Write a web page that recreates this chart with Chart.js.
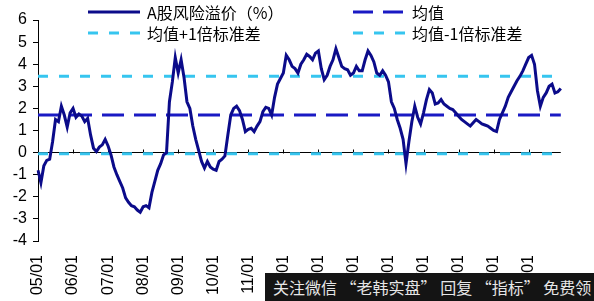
<!DOCTYPE html>
<html>
<head>
<meta charset="utf-8">
<style>
    body {
        margin: 0;
        background: #fff;
    }
    .wrap {
        position: relative;
        width: 594px;
        height: 301px;
    }
    .legend-item {
        position: absolute;
        display: flex;
        align-items: center;
        height: 20px;
        font-family: 'Noto Sans CJK SC', sans-serif;
        font-size: 16px;
        color: #000;
        white-space: nowrap;
    }
    .legend-item svg {
        margin-right: 7px;
    }
    .watermark {
        position: absolute;
        left: 265px;
        top: 273px;
        width: 321px;
        height: 28px;
        padding-left: 8px;
        background: #141414;
        color: #e6e6e6;
        font-family: 'Noto Sans CJK SC', sans-serif;
        font-size: 16px;
        line-height: 28px;
        white-space: nowrap;
    }
</style>
</head>
<body>
<div class="wrap">
    <canvas id="premiumChart" width="594" height="301"></canvas>

    <!-- 图例 -->
    <div class="legend-item" style="left:88px; top:2px">
        <svg width="52" height="20"><line x1="0" y1="10" x2="52" y2="10" stroke="#0b0b8a" stroke-width="3"/></svg>
        <span>A股风险溢价（%）</span>
    </div>
    <div class="legend-item" style="left:353px; top:2px">
        <svg width="52" height="20"><line x1="0" y1="10" x2="52" y2="10" stroke="#1a1ac4" stroke-width="3" stroke-dasharray="20 10"/></svg>
        <span>均值</span>
    </div>
    <div class="legend-item" style="left:88px; top:23px">
        <svg width="52" height="20"><line x1="0" y1="10" x2="52" y2="10" stroke="#36c5ef" stroke-width="3" stroke-dasharray="10 11"/></svg>
        <span>均值+1倍标准差</span>
    </div>
    <div class="legend-item" style="left:353px; top:23px">
        <svg width="52" height="20"><line x1="0" y1="10" x2="52" y2="10" stroke="#36c5ef" stroke-width="3" stroke-dasharray="10 11"/></svg>
        <span>均值-1倍标准差</span>
    </div>

    <div class="watermark">关注微信 “老韩实盘” 回复 “指标” 免费领</div>
</div>

<script src="https://cdn.jsdelivr.net/npm/chart.js"></script>
<script>
    // 年份刻度
    const yearLabels = ['05/01', '06/01', '07/01', '08/01', '09/01', '10/01', '11/01', '12/01',
                        '13/01', '14/01', '15/01', '16/01', '17/01', '18/01', '19/01'];

    // A股风险溢价（%），按月读取
    const premium = [
        -0.8, -1.36, -0.6, -0.35, -0.3, 0.5, 1.5, 1.4, 2.1, 1.7, 1.15, 1.8,
        2.0, 1.6, 1.75, 1.65, 1.4, 1.55, 0.8, 0.2, 0.05, 0.25, 0.35, 0.6,
        0.3, -0.1, -0.65, -1.0, -1.3, -1.6, -2.05, -2.25, -2.4, -2.45, -2.6, -2.7,
        -2.45, -2.4, -2.5, -1.8, -1.3, -0.8, -0.5, -0.1, 0.0, 2.3, 3.2, 4.3,
        3.6, 4.2, 3.4, 2.3, 2.0, 1.2, 0.6, 0.1, -0.4, -0.7, -0.4, -0.65,
        -0.75, -0.8, -0.4, -0.3, -0.15, 0.8, 1.7, 2.0, 2.1, 1.9, 1.5, 0.95,
        1.05, 1.1, 0.95, 1.2, 1.4, 1.85, 2.05, 2.0, 1.7, 2.5, 3.1, 3.35,
        3.6, 4.4, 4.2, 3.9, 3.8, 3.6, 4.0, 4.2, 4.45, 4.35, 4.2, 4.5,
        4.6, 3.8, 3.3, 3.5, 3.9, 4.2, 4.7, 4.3, 3.9, 3.8, 3.75, 3.5,
        3.6, 3.9, 3.7, 3.7, 4.2, 4.6, 4.4, 4.1, 3.6, 3.5, 3.7, 3.5,
        3.2, 2.3, 2.0, 1.5, 1.1, 0.6, -0.5, 0.5, 1.4, 2.1, 1.6, 1.3,
        1.8, 2.4, 2.85, 2.7, 2.2, 2.25, 2.4, 2.2, 2.1, 2.0, 1.95, 1.8,
        1.65, 1.5, 1.4, 1.3, 1.2, 1.35, 1.5, 1.4, 1.3, 1.25, 1.2, 1.1,
        1.0, 0.95, 1.5, 1.8, 2.1, 2.5, 2.75, 3.0, 3.25, 3.45, 3.7, 4.0,
        4.3, 4.4, 4.0, 2.8, 2.1, 2.5, 2.7, 3.0, 3.1, 2.7, 2.75, 2.9
    ];

    // 均值及上下1倍标准差
    const meanLevel = 1.7;
    const upperLevel = 3.45;
    const lowerLevel = -0.05;

    // 月份类别
    const monthLabels = [];
    yearLabels.forEach(function (y) {
        const yy = y.slice(0, 2);
        for (let m = 1; m <= 12; m++) {
            monthLabels.push(yy + '/' + String(m).padStart(2, '0'));
        }
    });

    const tickFont = { family: "'Liberation Sans', Arial, sans-serif", size: 16 };

    // 零轴上的年份刻度线
    const zeroTicks = {
        id: 'zeroTicks',
        beforeDatasetsDraw(chart) {
            const { ctx, scales: { x, y } } = chart;
            const y0 = Math.round(y.getPixelForValue(0)) + 0.5;
            ctx.save();
            ctx.strokeStyle = '#000';
            ctx.lineWidth = 1;
            ctx.beginPath();
            for (let i = 0; i < monthLabels.length; i += 12) {
                const px = Math.round(x.getPixelForValue(i)) + 0.5;
                ctx.moveTo(px, y0);
                ctx.lineTo(px, y0 - 4);
            }
            ctx.stroke();
            ctx.restore();
        }
    };

    const ctx = document.getElementById('premiumChart').getContext('2d');
    new Chart(ctx, {
        type: 'line',
        data: {
            labels: monthLabels,
            datasets: [
                {
                    label: 'A股风险溢价（%）',
                    data: premium,
                    borderColor: '#0b0b8a',
                    borderWidth: 3,
                    pointRadius: 0,
                    tension: 0
                },
                {
                    label: '均值',
                    data: monthLabels.map(() => meanLevel),
                    borderColor: '#1a1ac4',
                    borderWidth: 3,
                    borderDash: [22, 10],
                    pointRadius: 0
                },
                {
                    label: '均值+1倍标准差',
                    data: monthLabels.map(() => upperLevel),
                    borderColor: '#36c5ef',
                    borderWidth: 3,
                    borderDash: [10, 11],
                    pointRadius: 0
                },
                {
                    label: '均值-1倍标准差',
                    data: monthLabels.map(() => lowerLevel),
                    borderColor: '#36c5ef',
                    borderWidth: 3,
                    borderDash: [10, 11],
                    pointRadius: 0
                }
            ]
        },
        options: {
            responsive: false,
            animation: false,
            layout: { padding: { top: 20, right: 19, left: 0, bottom: 0 } },
            plugins: {
                legend: { display: false },
                tooltip: { enabled: false }
            },
            scales: {
                x: {
                    grid: { display: false, drawTicks: false },
                    border: { display: false },
                    ticks: {
                        autoSkip: false,
                        minRotation: 90,
                        maxRotation: 90,
                        padding: 14,
                        color: '#000',
                        font: tickFont,
                        callback: function (v, i) {
                            return i % 12 === 0 ? this.getLabelForValue(v) : '';
                        }
                    },
                    afterFit(scale) { scale.height = 60; }
                },
                y: {
                    min: -4,
                    max: 6,
                    ticks: { stepSize: 1, autoSkip: false, padding: 6, color: '#000', font: tickFont },
                    grid: {
                        color: c => (c.tick && c.tick.value === 0) ? '#000' : 'rgba(0,0,0,0)',
                        tickColor: '#000',
                        tickLength: 5
                    },
                    border: { color: '#000' },
                    afterFit(scale) { scale.width = 38; }
                }
            }
        },
        plugins: [zeroTicks]
    });
</script>
</body>
</html>
